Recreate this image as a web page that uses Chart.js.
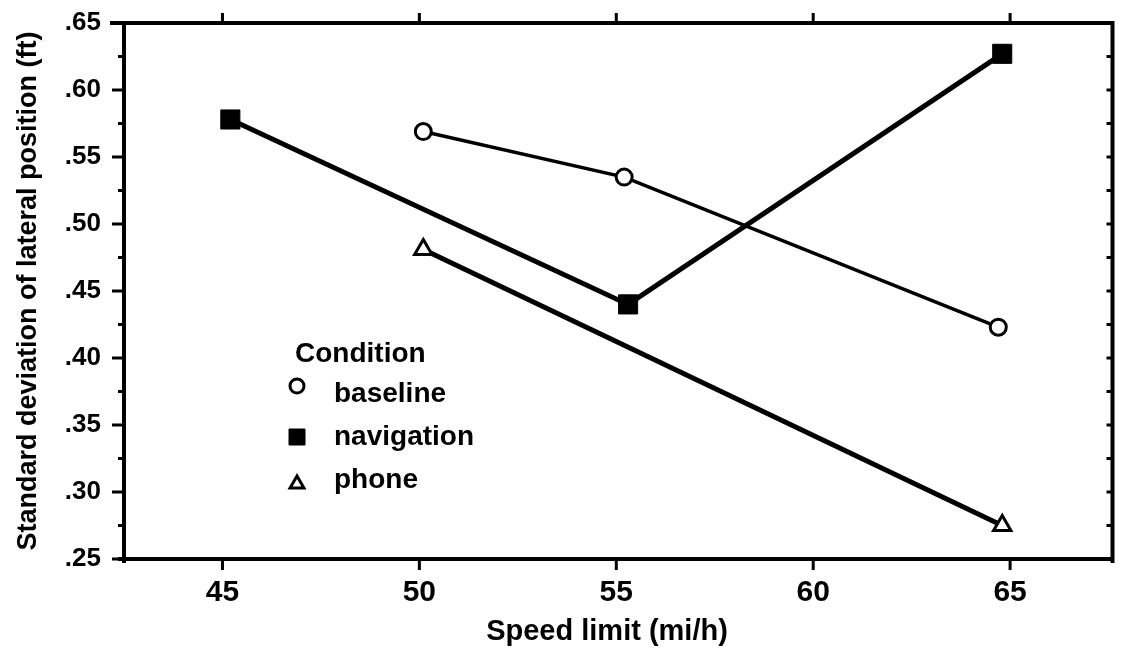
<!DOCTYPE html>
<html>
<head>
<meta charset="utf-8">
<script src="https://cdn.jsdelivr.net/npm/chart.js@4.4.1/dist/chart.umd.min.js"></script>
<style>
  html, body { margin: 0; padding: 0; background: #fff; }
  canvas { display: block; }
</style>
</head>
<body>
<canvas id="chart" width="1127" height="648"></canvas>
<script>
// Lateral-position variability by posted speed limit, one series per driving condition
const conditionNames = ['baseline', 'navigation', 'phone'];
const baselineSpeed = [50.1, 55.2, 64.7];
const baselineSD = [0.569, 0.535, 0.423];
const navigationSpeed = [45.2, 55.3, 64.8];
const navigationSD = [0.578, 0.440, 0.627];
const phoneSpeed = [50.1, 64.8];
const phoneSD = [0.481, 0.275];
const speedTicks = [45, 50, 55, 60, 65];
const sdTicks = [0.25, 0.30, 0.35, 0.40, 0.45, 0.50, 0.55, 0.60, 0.65];
const xTitle = 'Speed limit (mi/h)';
const yTitle = 'Standard deviation of lateral position (ft)';
const legendTitle = 'Condition';

const FONT = '"Liberation Sans", Arial, Helvetica, sans-serif';
const INK = '#000';

function pairs(xs, ys) { return xs.map((x, i) => ({ x: x, y: ys[i] })); }

// Marker drawing used by the legend rows
function drawMarker(ctx, style, x, y, r, lw) {
  ctx.save();
  ctx.lineWidth = lw;
  ctx.strokeStyle = INK;
  ctx.fillStyle = style === 'rect' ? INK : '#fff';
  ctx.beginPath();
  if (style === 'circle') {
    ctx.arc(x, y, r, 0, Math.PI * 2);
  } else if (style === 'rect') {
    ctx.rect(x - r, y - r, 2 * r, 2 * r);
  } else {
    const h = r * Math.sqrt(3);
    ctx.moveTo(x, y - r);
    ctx.lineTo(x + h / 2, y + r / 2);
    ctx.lineTo(x - h / 2, y + r / 2);
    ctx.closePath();
  }
  ctx.fill();
  ctx.stroke();
  ctx.restore();
}

// Box frame with outward ticks on the left/bottom, top ticks and inward right ticks
const framePlugin = {
  id: 'frame',
  afterDatasetsDraw(chart) {
    const ctx = chart.ctx;
    const xs = chart.scales.x, ys = chart.scales.y;
    const L = xs.left, R = xs.right, T = ys.top, B = ys.bottom;
    ctx.save();
    ctx.strokeStyle = INK;
    ctx.lineCap = 'butt';
    ctx.lineWidth = 4;
    ctx.beginPath();
    ctx.moveTo(L - 14, T); ctx.lineTo(R + 2, T);
    ctx.moveTo(L - 6, B); ctx.lineTo(R + 2, B);
    ctx.moveTo(L, T - 2); ctx.lineTo(L, B + 4);
    ctx.moveTo(R, T - 2); ctx.lineTo(R, B + 4);
    ctx.stroke();

    ctx.lineWidth = 3;
    ctx.beginPath();
    for (const v of sdTicks) {
      const py = ys.getPixelForValue(v);
      ctx.moveTo(L - 12, py); ctx.lineTo(L, py);
      ctx.moveTo(R - 6, py); ctx.lineTo(R, py);
      const mid = v + 0.025;
      if (mid < sdTicks[sdTicks.length - 1]) {
        const pm = ys.getPixelForValue(mid);
        ctx.moveTo(L - 6, pm); ctx.lineTo(L, pm);
        ctx.moveTo(R - 6, pm); ctx.lineTo(R, pm);
      }
    }
    for (const v of speedTicks) {
      const px = xs.getPixelForValue(v);
      ctx.moveTo(px, B); ctx.lineTo(px, B + 11);
      ctx.moveTo(px, T); ctx.lineTo(px, T - 10);
    }
    ctx.stroke();

    // horizontal axis title
    ctx.fillStyle = INK;
    ctx.font = 'bold 29px ' + FONT;
    ctx.textAlign = 'center';
    ctx.textBaseline = 'alphabetic';
    ctx.fillText(xTitle, 607, 640);
    ctx.restore();
  }
};

// Legend block inside the plot: heading and one row per series
const legendPlugin = {
  id: 'conditionLegend',
  afterDraw(chart) {
    const ctx = chart.ctx;
    ctx.save();
    ctx.fillStyle = INK;
    ctx.textBaseline = 'alphabetic';
    ctx.textAlign = 'left';
    ctx.font = 'bold 28px ' + FONT;
    ctx.fillText(legendTitle, 295, 362);
    const rows = [
      { y: 402, my: 386, r: 7, lw: 3 },
      { y: 445, my: 437, r: 8, lw: 1 },
      { y: 488, my: 484, r: 8, lw: 3 }
    ];
    chart.data.datasets.forEach((ds, i) => {
      const row = rows[i];
      drawMarker(ctx, ds.pointStyle, 297, row.my, row.r, row.lw);
      ctx.fillStyle = INK;
      ctx.fillText(ds.label, 334, row.y);
    });
    ctx.restore();
  }
};

new Chart(document.getElementById('chart'), {
  type: 'scatter',
  data: {
    datasets: [
      {
        label: conditionNames[0],
        data: pairs(baselineSpeed, baselineSD),
        showLine: true,
        borderColor: INK,
        borderWidth: 3.5,
        pointStyle: 'circle',
        pointRadius: 8,
        pointBorderWidth: 3,
        pointBackgroundColor: '#fff',
        pointBorderColor: INK
      },
      {
        label: conditionNames[1],
        data: pairs(navigationSpeed, navigationSD),
        showLine: true,
        borderColor: INK,
        borderWidth: 5,
        pointStyle: 'rect',
        pointRadius: 13.5,
        pointBorderWidth: 1,
        pointBackgroundColor: INK,
        pointBorderColor: INK
      },
      {
        label: conditionNames[2],
        data: pairs(phoneSpeed, phoneSD),
        showLine: true,
        borderColor: INK,
        borderWidth: 5,
        pointStyle: 'triangle',
        pointRadius: 10,
        pointBorderWidth: 3,
        pointBackgroundColor: '#fff',
        pointBorderColor: INK
      }
    ]
  },
  options: {
    responsive: false,
    animation: false,
    events: [],
    layout: { padding: { top: 23, right: -5, left: 0, bottom: 0 } },
    plugins: { legend: { display: false }, tooltip: { enabled: false } },
    scales: {
      x: {
        type: 'linear',
        min: 42.5,
        max: 67.6,
        afterBuildTicks: s => { s.ticks = speedTicks.map(v => ({ value: v })); },
        afterFit: s => { s.height = 89; s.paddingLeft = 0; s.paddingRight = 0; },
        grid: { display: false, drawTicks: false },
        border: { display: false },
        ticks: {
          color: INK,
          padding: 16,
          maxRotation: 0,
          font: { family: FONT, size: 30, weight: 'bold' },
          callback: v => String(v)
        },
        title: { display: false }
      },
      y: {
        type: 'linear',
        min: 0.25,
        max: 0.65,
        afterBuildTicks: s => { s.ticks = sdTicks.map(v => ({ value: v })); },
        afterFit: s => { s.width = 124; s.paddingTop = 0; s.paddingBottom = 0; },
        grid: { display: false, drawTicks: false },
        border: { display: false },
        ticks: {
          color: INK,
          padding: 23,
          font: { family: FONT, size: 26, weight: 'bold' },
          callback: v => Number(v).toFixed(2).replace(/^0/, '')
        },
        title: {
          display: true,
          text: yTitle,
          color: INK,
          padding: { top: 15, bottom: 0 },
          font: { family: FONT, size: 27, weight: 'bold', lineHeight: 1 }
        }
      }
    }
  },
  plugins: [framePlugin, legendPlugin]
});
</script>
</body>
</html>
